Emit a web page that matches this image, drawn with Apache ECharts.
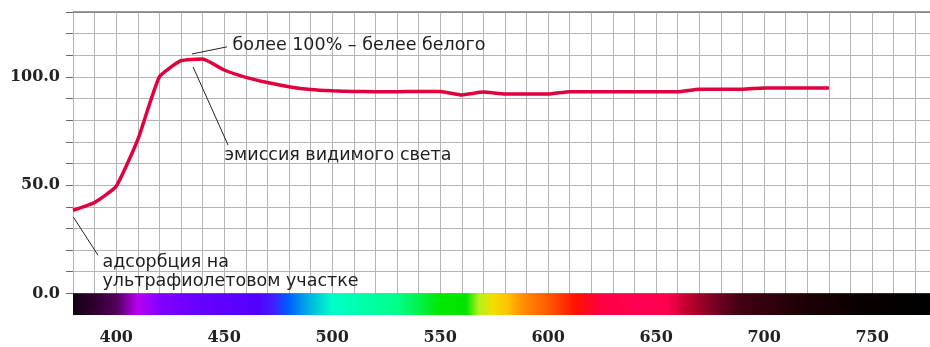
<!DOCTYPE html>
<html><head><meta charset="utf-8">
<script src="https://cdn.jsdelivr.net/npm/echarts/dist/echarts.min.js"></script>
<style>html,body{margin:0;padding:0;background:#fff}#c{width:930px;height:347px}</style>
</head><body><div id="c"></div>
<script>
const wavelengths = [380,390,400,410,420,430,440,450,460,470,480,490,500,510,520,530,540,550,560,570,580,590,600,610,620,630,640,650,660,670,680,690,700,710,720,730];
const reflectance = [38.4,42.0,49.5,71.0,100.0,107.5,108.3,103.2,99.8,97.4,95.5,94.2,93.6,93.3,93.2,93.2,93.3,93.3,91.7,93.0,92.1,92.1,92.1,93.2,93.2,93.2,93.2,93.2,93.2,94.3,94.3,94.3,94.9,94.9,94.9,94.9];
const xTickLabels = [400,450,500,550,600,650,700,750];
const yTickLabels = [0,50,100];
const spectrumWl = [380,390,400,410,420,440,466,473,479,490,500,515,530,542,550,562,568,574,581,588,599,613,624,640,655,664,678,689,716,747,777];
const spectrumColors = ['#140014','#300030','#50005a','#b800f0','#8200ff','#6400ff','#5200ff','#4020ff','#0058ff','#00b8e0','#00ffc8','#00ffa8','#00ff88','#00f040','#00e800','#00e400','#b8f020','#f0e000','#ffc400','#ff9000','#ff6000','#ff1000','#ff0040','#ff0050','#ff0050','#c40030','#700020','#420010','#200006','#080000','#000000'];
const annotationTexts = ['более 100% – белее белого','эмиссия видимого света','адсорбция на','ультрафиолетовом участке'];
const annotationCoords = [[453.6,114.4],[449.9,63.9],[393.4,14.4],[393.4,5.6]];
const leaderLines = [[[435.1,110.6],[451.3,113.9]],[[435.6,104.6],[451.8,68.5]],[[380.2,35.2],[391.6,17.6]]];

const xMin = 380, xMax = 776.8, yMin = -10, yMax = 130, yStep = 10;
const yTicks = [];
for (let v = 0; v <= yMax; v += yStep) yTicks.push(v);

const chart = echarts.init(document.getElementById('c'), null, {renderer:'canvas'});
const stops = spectrumWl.map((w,i)=>({offset: Math.min(1,(w-xMin)/(xMax-xMin)), color: spectrumColors[i]}));

const option = {
  animation:false,
  grid:{left:73,right:0,top:12,bottom:32},
  xAxis:{type:'value',min:xMin,max:xMax,interval:10,
    axisLine:{show:false},
    axisTick:{show:true,length:7,lineStyle:{color:'#666'}},
    axisLabel:{showMaxLabel:false,margin:15,color:'#222',fontFamily:'DejaVu Serif',fontWeight:'bold',fontSize:16,
      formatter:v=> xTickLabels.includes(v)? String(v):''},
    splitLine:{show:true,lineStyle:{color:'#b4b4b4',width:1}}
  },
  yAxis:{type:'value',min:yMin,max:yMax,interval:yStep,
    axisLine:{show:false},
    axisTick:{show:true,length:7,lineStyle:{color:'#666'},customValues:yTicks},
    axisLabel:{margin:13,color:'#222',fontFamily:'DejaVu Serif',fontWeight:'bold',fontSize:16,
      customValues:yTickLabels, formatter:v=> v.toFixed(1)},
    splitLine:{show:true,lineStyle:{color:'#b4b4b4',width:1}}
  },
  series:[{
    type:'line',
    data:wavelengths.map((w,i)=>[w,reflectance[i]]),
    symbol:'none',smooth:0.15,
    lineStyle:{color:'#e0003e',width:3.5},
    markArea:{silent:true,
      itemStyle:{color:new echarts.graphic.LinearGradient(0,0,1,0,stops)},
      data:[[{coord:[xMin,0]},{coord:[xMax,yMin]}]]
    },
    markLine:{silent:true,symbol:['none','none'],animation:false,
      lineStyle:{color:'#222',width:1,type:'solid'},label:{show:false},
      data:leaderLines.map(l=>[{coord:l[0]},{coord:l[1]}]).concat([
        {yAxis:yMax,lineStyle:{color:'#7a7a7a',width:1.5}}
      ])
    },
    markPoint:{silent:true,symbol:'circle',symbolSize:1,itemStyle:{color:'rgba(0,0,0,0)'},
      label:{show:true,position:'right',distance:0,color:'#1e1e1e',fontFamily:'DejaVu Sans',fontSize:17.5},
      data:annotationTexts.map((t,i)=>({coord:annotationCoords[i],label:{formatter:t}}))
    }
  }]
};
chart.setOption(option);
</script></body></html>
